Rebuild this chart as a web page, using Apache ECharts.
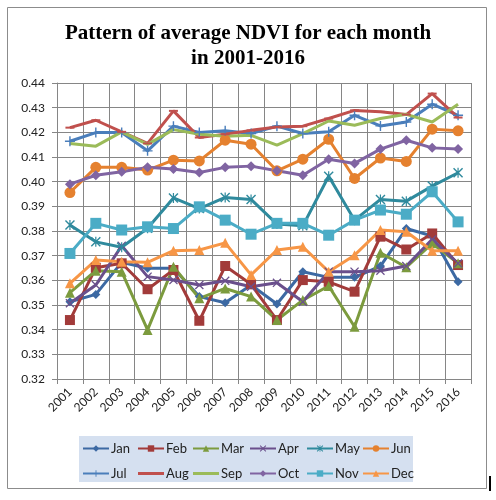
<!DOCTYPE html>
<html>
<head>
<meta charset="utf-8">
<script src="https://cdn.jsdelivr.net/npm/echarts@6/dist/echarts.min.js"></script>
<style>
  html, body { margin: 0; padding: 0; background: #fff; }
  #main { width: 496px; height: 500px; }
</style>
</head>
<body>
<div id="main"></div>
<script>
// 数据
var years = ['2001','2002','2003','2004','2005','2006','2007','2008','2009','2010','2011','2012','2013','2014','2015','2016'];
var yTicks = [0.32, 0.44, 0.01];   // min, max, interval

var jan = [0.3513,0.3543,0.3673,0.3649,0.3649,0.3534,0.3509,0.3581,0.3504,0.3635,0.3612,0.3612,0.3658,0.3810,0.3780,0.3594];
var feb = [0.3439,0.3651,0.3669,0.3564,0.3642,0.3436,0.3658,0.3584,0.3439,0.3601,0.3594,0.3554,0.3777,0.3725,0.3790,0.3662];
var mar = [0.3550,0.3639,0.3635,0.3399,0.3655,0.3527,0.3567,0.3534,0.3439,0.3520,0.3577,0.3412,0.3712,0.3653,0.3750,0.3669];
var apr = [0.3507,0.3581,0.3740,0.3615,0.3601,0.3581,0.3598,0.3574,0.3590,0.3513,0.3635,0.3635,0.3639,0.3658,0.3766,0.3669];
var may = [0.3824,0.3756,0.3734,0.3811,0.3934,0.3891,0.3936,0.3928,0.3828,0.3821,0.4022,0.3844,0.3928,0.3921,0.3982,0.4036];
var jun = [0.3956,0.4058,0.4058,0.4047,0.4087,0.4084,0.4168,0.4152,0.4044,0.4091,0.4172,0.4013,0.4096,0.4082,0.4213,0.4206];
var jul = [0.4164,0.4199,0.4199,0.4125,0.4225,0.4199,0.4206,0.4195,0.4225,0.4195,0.4202,0.4269,0.4226,0.4242,0.4314,0.4269];
var aug = [0.4219,0.4249,0.4202,0.4155,0.4287,0.4179,0.4192,0.4208,0.4222,0.4225,0.4256,0.4289,0.4283,0.4272,0.4357,0.4260];
var sep = [0.4155,0.4144,0.4202,0.4151,0.4211,0.4192,0.4184,0.4188,0.4148,0.4195,0.4246,0.4229,0.4256,0.4273,0.4242,0.4314];
var oct = [0.3990,0.4026,0.4040,0.4058,0.4051,0.4037,0.4058,0.4063,0.4044,0.4026,0.4091,0.4074,0.4132,0.4168,0.4137,0.4132];
var nov = [0.3709,0.3831,0.3804,0.3817,0.3810,0.3898,0.3844,0.3787,0.3831,0.3831,0.3783,0.3844,0.3885,0.3868,0.3959,0.3837];
var dec = [0.3588,0.3682,0.3675,0.3673,0.3720,0.3723,0.3752,0.3622,0.3723,0.3736,0.3635,0.3702,0.3804,0.3797,0.3720,0.3720];

var months = ['Jan','Feb','Mar','Apr','May','Jun','Jul','Aug','Sep','Oct','Nov','Dec'];
var values = [jan, feb, mar, apr, may, jun, jul, aug, sep, oct, nov, dec];

// 标记样式
var X_MARK = 'path://M0,1 L1,0 L5,4 L9,0 L10,1 L6,5 L10,9 L9,10 L5,6 L1,10 L0,9 L4,5 Z';
var STAR_MARK = X_MARK + ' M4.4,0 L5.6,0 L5.6,10 L4.4,10 Z';
var PLUS_MARK = 'path://M4.3,0 L5.7,0 L5.7,4.3 L10,4.3 L10,5.7 L5.7,5.7 L5.7,10 L4.3,10 L4.3,5.7 L0,5.7 L0,4.3 L4.3,4.3 Z';
// 图例里只有线的图标（上下两个极小点撑开高度）
var LINE_ICON = 'path://M0,0 L0.01,0 L0,0.01 Z M0,2.6 L26,2.6 L26,5.4 L0,5.4 Z M0,8 L0.01,8 L0,7.99 Z';

var colors  = ['#3c69a3','#a23b3a','#7c9b3e','#6a4f8c','#2f8a9d','#e5812f',
               '#4a7ebb','#c0504d','#9bbb59','#8064a2','#4bacc6','#f79646'];
var symbols = ['diamond','rect','triangle',X_MARK,STAR_MARK,'circle',
               PLUS_MARK,'rect','none','diamond','rect','triangle'];
var sizes   = [9, 10, 10, 9, 10, 11, 10, [9, 2], 0, 10, 11, 10];

var series = months.map(function (m, i) {
    return {
        name: m,
        type: 'line',
        data: values[i],
        symbol: symbols[i],
        symbolSize: sizes[i],
        showSymbol: symbols[i] !== 'none',
        lineStyle: { width: 3, color: colors[i] },
        itemStyle: { color: colors[i], borderWidth: 0 },
        emphasis: { disabled: true },
        animation: false
    };
});

// 图例：六列两行
var legendCols = [['Jan','Jul'],['Feb','Aug'],['Mar','Sep'],['Apr','Oct'],['May','Nov'],['Jun','Dec']];
var legendLeft = [82, 137, 192, 249, 306, 362];
var legends = legendCols.map(function (c, i) {
    return {
        data: c.map(function (n) {
            return (n === 'Aug' || n === 'Sep') ? { name: n, icon: LINE_ICON } : { name: n };
        }),
        orient: 'vertical',
        left: legendLeft[i],
        top: 442,
        padding: 0,
        itemGap: 12,
        itemWidth: 26,
        itemHeight: 8,
        selectedMode: false,
        textStyle: { fontFamily: 'Lato', fontSize: 13, color: '#222', padding: [0, 0, 0, -3] }
    };
});

var myChart = echarts.init(document.getElementById('main'));

var option = {
    backgroundColor: '#fff',
    color: colors,
    title: {
        text: 'Pattern of average NDVI for each month\nin 2001-2016',
        left: 'center',
        top: 16,
        textStyle: {
            fontFamily: 'Liberation Serif',
            fontWeight: 'bold',
            fontSize: 21,
            lineHeight: 25,
            color: '#000'
        }
    },
    graphic: [
        { type: 'rect', shape: { x: 7.5, y: 7.5, width: 479, height: 481 },
          style: { fill: null, stroke: '#8c8c8c', lineWidth: 1 }, z: -10 },
        { type: 'rect', shape: { x: 79, y: 436, width: 334, height: 46 },
          style: { fill: '#d5e0f0' }, z: -5 },
        { type: 'rect', shape: { x: 489, y: 476, width: 2, height: 15 },
          style: { fill: '#000' } }
    ],
    legend: legends,
    grid: { left: 57, right: 25, top: 83, bottom: 121 },
    xAxis: {
        type: 'category',
        data: years,
        boundaryGap: true,
        axisLine: { lineStyle: { color: '#868686' } },
        axisTick: { show: true, length: 5, lineStyle: { color: '#868686' } },
        splitLine: { show: true, lineStyle: { color: '#868686', width: 1 } },
        axisLabel: {
            rotate: 45,
            margin: 11,
            interval: 0,
            fontFamily: 'Lato',
            fontSize: 12,
            color: '#222'
        }
    },
    yAxis: {
        type: 'value',
        min: yTicks[0],
        max: yTicks[1],
        interval: yTicks[2],
        axisLine: { show: true, lineStyle: { color: '#868686' } },
        axisTick: { show: true, length: 5, lineStyle: { color: '#868686' } },
        splitLine: { lineStyle: { color: '#868686', width: 1 } },
        axisLabel: {
            margin: 12,
            fontFamily: 'Lato',
            fontSize: 12,
            color: '#222',
            formatter: function (v) { return v.toFixed(2); }
        }
    },
    series: series
};

myChart.setOption(option);
</script>
</body>
</html>
